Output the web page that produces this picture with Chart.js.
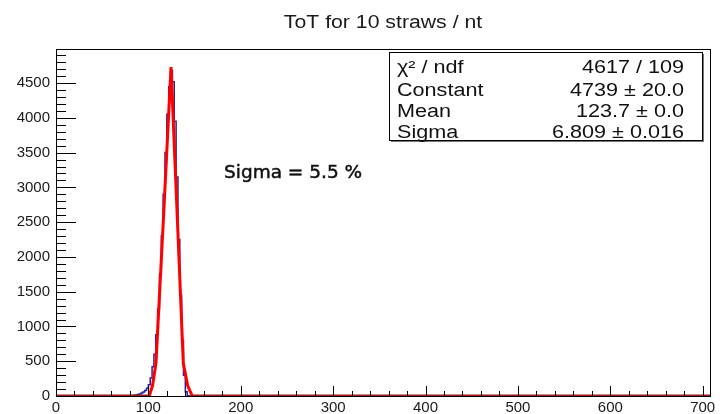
<!DOCTYPE html>
<html>
<head>
<meta charset="utf-8">
<script src="https://cdn.jsdelivr.net/npm/chart.js@4.4.1/dist/chart.umd.min.js"></script>
<style>
  html, body { margin: 0; padding: 0; background: #fff; }
  #wrap { position: relative; width: 721px; height: 414px; }
</style>
</head>
<body>
<div id="wrap"><canvas id="tot-chart" width="721" height="414"></canvas></div>
<script>
// histogram ToT, bins of width 2 (lower edges) and their contents
const binEdges = [80, 82, 84, 86, 88, 90, 92, 94, 96, 98, 100, 102, 104, 106, 108, 110, 112,
                  114, 116, 118, 120, 122, 124, 126, 128, 130, 132, 134, 136, 138, 140, 142, 144, 146];
const binCounts = [2, 5, 10, 15, 22, 30, 42, 58, 80, 110, 160, 260, 420, 600, 880, 1250, 1750,
                   2300, 2900, 3500, 4050, 4450, 4680, 4520, 3950, 3150, 2250, 1450, 800, 300, 60, 5, 0];

// gaus fit curve as drawn
const fitX = [0, 100.9, 104.5, 108.2, 116.3, 124.5, 131.2, 137.8, 142.5, 147.5, 709];
const fitY = [0, 0, 150, 470, 2550, 4730, 2600, 470, 150, 0, 0];

const xTicks = [0, 100, 200, 300, 400, 500, 600, 700];
const yTicks = [0, 500, 1000, 1500, 2000, 2500, 3000, 3500, 4000, 4500];
const xMax = 709;
const yMax = 4990;

const titleText = "ToT for 10 straws / nt";
const noteText = "Sigma = 5.5 %";
const statNames = ["\u03C7\u00B2 / ndf", "Constant", "Mean", "Sigma"];
const statValues = ["4617 / 109", "4739 \u00B1 20.0", "123.7 \u00B1 0.0", "6.809 \u00B1 0.016"];

let histPoints = [{x: 0, y: 0}];
binCounts.forEach((c, i) => histPoints.push({x: binEdges[i], y: c}));
histPoints.push({x: binEdges[binEdges.length - 1], y: 0});
histPoints.push({x: xMax, y: 0});

const fitPoints = fitX.map((x, i) => ({x: x, y: fitY[i]}));

// stretched text, like the reference (ROOT text is wider than Liberation Sans)
function wideText(ctx, txt, x, y, align, scaleX) {
    ctx.save();
    ctx.translate(x, y);
    ctx.scale(scaleX, 1);
    ctx.textAlign = align;
    ctx.fillText(txt, 0, 0);
    ctx.restore();
}

const rootFrame = {
    id: 'rootFrame',
    afterDatasetsDraw(chart) {
        const ctx = chart.ctx;
        const a = chart.chartArea;
        const xs = chart.scales.x;
        const ys = chart.scales.y;
        ctx.save();
        ctx.strokeStyle = '#000';
        ctx.lineWidth = 1;
        ctx.strokeRect(a.left + 0.5, a.top + 0.5, a.right - a.left - 1, a.bottom - a.top);
        // inward ticks, x
        ctx.beginPath();
        for (let v = 0; v <= xMax; v += 20) {
            const px = Math.round(xs.getPixelForValue(v)) + 0.5;
            const len = v % 100 === 0 ? 10 : 5;
            ctx.moveTo(px, a.bottom);
            ctx.lineTo(px, a.bottom - len);
        }
        // inward ticks, y
        for (let v = 0; v <= yMax; v += 100) {
            const py = Math.round(ys.getPixelForValue(v)) + 0.5;
            const len = v % 500 === 0 ? 20 : 10;
            ctx.moveTo(a.left, py);
            ctx.lineTo(a.left + len, py);
        }
        ctx.stroke();

        // title
        ctx.fillStyle = '#1a1a1a';
        ctx.font = '18px "Liberation Sans"';
        ctx.textBaseline = 'alphabetic';
        wideText(ctx, titleText, 383, 28, 'center', 1.18);

        // annotation
        ctx.font = '18.5px "DejaVu Sans"';
        ctx.fillStyle = '#111';
        ctx.strokeStyle = '#111';
        ctx.lineWidth = 0.5;
        ctx.textAlign = 'left';
        ctx.fillText(noteText, 224, 178);
        ctx.strokeText(noteText, 224, 178);
        ctx.lineWidth = 1;

        // stats box
        const bx = 389, by = 52, bw = 313, bh = 88;
        ctx.fillStyle = '#777';
        ctx.fillRect(bx + 2, by + 2, bw, bh);
        ctx.fillStyle = '#fff';
        ctx.fillRect(bx, by, bw, bh);
        ctx.strokeStyle = '#000';
        ctx.strokeRect(bx + 0.5, by + 0.5, bw, bh);
        ctx.fillStyle = '#111';
        ctx.font = '18px "Liberation Sans"';
        const rowY = [73, 95.5, 117, 138];
        statNames.forEach((n, i) => wideText(ctx, n, 397, rowY[i], 'left', 1.2));
        statValues.forEach((v, i) => wideText(ctx, v, 684, rowY[i], 'right', 1.2));
        ctx.restore();
    }
};

const config = {
    type: 'scatter',
    data: {
        datasets: [
            {
                label: 'fit',
                data: fitPoints,
                showLine: true,
                borderColor: '#ff0000',
                borderWidth: 3,
                pointRadius: 0,
                tension: 0,
                clip: 0,
                order: 0,
                segment: {
                    // flat part of the fit lying on the axis looks dark red
                    borderColor: c => (c.p0.parsed.y === 0 && c.p1.parsed.y === 0 ? '#a01818' : undefined)
                }
            },
            {
                label: 'ToT',
                data: histPoints,
                showLine: true,
                stepped: 'before',
                borderColor: '#22229a',
                borderWidth: 1.5,
                pointRadius: 0,
                clip: 0,
                order: 1
            }
        ]
    },
    options: {
        responsive: false,
        animation: false,
        layout: {padding: {top: 49, right: 10, left: 0, bottom: 0}},
        plugins: {legend: {display: false}, tooltip: {enabled: false}, title: {display: false}},
        scales: {
            x: {
                type: 'linear',
                min: 0,
                max: xMax,
                border: {display: false},
                grid: {display: false, drawTicks: false},
                afterBuildTicks: s => { s.ticks = xTicks.map(v => ({value: v})); },
                ticks: {
                    padding: 3,
                    maxRotation: 0,
                    autoSkip: false,
                    color: '#1a1a1a',
                    font: {family: 'Liberation Sans', size: 15}
                },
                afterFit: s => { s.height = 18; }
            },
            y: {
                type: 'linear',
                min: 0,
                max: yMax,
                border: {display: false},
                grid: {display: false, drawTicks: false},
                afterBuildTicks: s => { s.ticks = yTicks.map(v => ({value: v})); },
                ticks: {
                    padding: 6,
                    autoSkip: false,
                    color: '#1a1a1a',
                    font: {family: 'Liberation Sans', size: 15},
                    callback: v => String(v)
                },
                afterFit: s => { s.width = 56; }
            }
        }
    },
    plugins: [rootFrame]
};

let ctx = document.getElementById('tot-chart').getContext('2d');
window.totChart = new Chart(ctx, config);
</script>
</body>
</html>
